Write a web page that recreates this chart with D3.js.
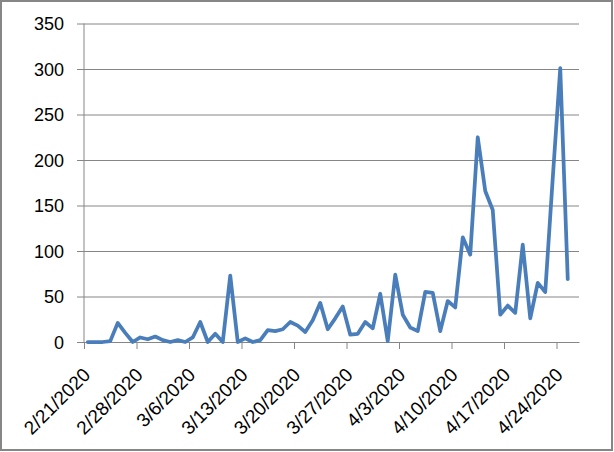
<!DOCTYPE html>
<html>
<head>
<meta charset="utf-8">
<script src="https://cdn.jsdelivr.net/npm/d3@7"></script>
<style>
  html, body { margin: 0; padding: 0; background: #fff; }
  svg { display: block; }
</style>
</head>
<body>
<svg id="chart" width="614" height="452"></svg>
<script>
// ---- data ----
const startDate = "2020-02-21";
const values = [
  0, 0, 0, 1, 21, 10, 0, 5, 3, 6,
  2, 0, 2, 0, 5, 22, 0, 9, 0, 73,
  0, 4, 0, 2, 13, 12, 14, 22, 18, 11,
  24, 43, 14, 26, 39, 8, 9, 22, 15, 53,
  1, 74, 30, 16, 12, 55, 54, 12, 45, 38,
  115, 96, 225, 166, 145, 30, 40, 32, 107, 26,
  65, 55, 180, 301, 69
];
const tickLabels = ["2/21/2020", "2/28/2020", "3/6/2020", "3/13/2020", "3/20/2020",
                    "3/27/2020", "4/3/2020", "4/10/2020", "4/17/2020", "4/24/2020"];
const yTicks = [0, 50, 100, 150, 200, 250, 300, 350];

// ---- build ----
const DAY = 86400000;
const t0 = Date.parse(startDate + "T00:00:00Z");
const dates = values.map((v, i) => new Date(t0 + i * DAY));
const tickDates = tickLabels.map(s => {
  const [m, d, y] = s.split("/").map(Number);
  return new Date(Date.UTC(y, m - 1, d));
});

const svg = d3.select("#chart");
const plot = { left: 84, right: 579, top: 23.5, bottom: 342 };

const x = d3.scaleUtc()
  .domain([new Date(t0), new Date(t0 + 66 * DAY)])
  .range([plot.left, plot.right]);
const y = d3.scaleLinear().domain([0, 350]).range([plot.bottom, plot.top]);

const gray = "#868686";
const font = "'Liberation Sans', Arial, sans-serif";

// outer border
svg.append("rect")
  .attr("x", 1).attr("y", 1).attr("width", 611).attr("height", 449)
  .attr("fill", "#fff").attr("stroke", gray).attr("stroke-width", 2);

// y axis with gridlines
const yAxis = d3.axisLeft(y).tickValues(yTicks)
  .tickSize(-(plot.right - plot.left)).tickSizeOuter(0).tickPadding(0)
  .tickFormat(d3.format("d"));
const gy = svg.append("g").attr("transform", `translate(${plot.left},0)`).call(yAxis);
gy.select(".domain").remove();
gy.selectAll(".tick line").attr("stroke", gray).attr("stroke-width", 1);
gy.selectAll(".tick text").remove();
// outside tick marks
gy.selectAll(".tick").append("line")
  .attr("x1", -7).attr("x2", 0).attr("stroke", gray);
gy.selectAll(".tick").append("text")
  .attr("x", -20).attr("dy", "0.35em")
  .attr("text-anchor", "end")
  .attr("font-family", font).attr("font-size", 18).attr("fill", "#000")
  .text(d => d);
svg.append("line")
  .attr("x1", plot.left).attr("x2", plot.left)
  .attr("y1", plot.top).attr("y2", plot.bottom)
  .attr("stroke", gray);

// x axis
const xAxis = d3.axisBottom(x).tickValues(tickDates).tickSize(7).tickSizeOuter(0)
  .tickFormat((d, i) => tickLabels[i]);
const gx = svg.append("g").attr("transform", `translate(0,${plot.bottom})`).call(xAxis);
gx.select(".domain").attr("stroke", gray);
gx.selectAll(".tick line").attr("stroke", gray);
gx.selectAll(".tick text")
  .attr("font-family", font).attr("font-size", 19).attr("fill", "#000")
  .attr("text-anchor", "end")
  .attr("y", 0).attr("dy", 0)
  .attr("transform", "translate(7,34) rotate(-45)");

// line
const line = d3.line()
  .x((d, i) => x(new Date(dates[i].getTime() + DAY / 2)))
  .y(d => y(d));
svg.append("path")
  .datum(values)
  .attr("d", line)
  .attr("fill", "none")
  .attr("stroke", "#4A7EBB")
  .attr("stroke-width", 3.75)
  .attr("stroke-linejoin", "round")
  .attr("stroke-linecap", "round");
</script>
</body>
</html>
